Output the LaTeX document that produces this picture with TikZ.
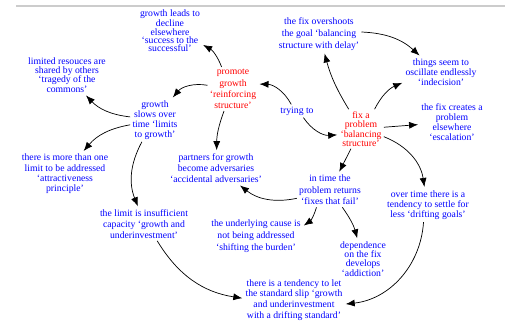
\documentclass[tikz,border=0pt]{standalone}
\usepackage{fontspec}
\setmainfont{Liberation Serif}
\usetikzlibrary{arrows.meta}

\begin{document}
\begin{tikzpicture}[x=1pt,y=-1pt,->,>={Latex[length=9pt,width=7pt]},shorten >=1pt,auto,
  line width=0.7pt,
  case node/.style={text=blue,align=center,inner sep=2pt,font=\fontsize{9.7}{#1}\selectfont},
  case node/.default=10.3,
  loop node/.style={case node=#1,text=red},
  loop node/.default=10.3]

  \useasboundingbox (0,0) rectangle (506,324);
  \draw[-,line width=2.5pt,black!20] (16,6) -- (506,6);

  \node[case node=8.3] (success) at (170,31) {growth leads to\\decline\\elsewhere\\`success to the\\successful'};
  \node[case node=9.3] (commons) at (67,75) {limited resouces are\\shared by others\\`tragedy of the\\commons'};
  \node[loop node=11.3] (promote) at (233,89) {promote\\growth\\`reinforcing\\structure'};
  \node[case node=10] (limits) at (155,120) {growth\\slows over\\time `limits\\to growth'};
  \node[case node] (attract) at (65,174) {there is more than one\\limit to be addressed\\`attractiveness\\principle'};
  \node[case node=11] (partners) at (216,168) {partners for growth\\become adversaries\\`accidental adversaries'};
  \node[case node] (trying) at (297,111) {trying to};
  \node[loop node=9.3] (fix) at (361,129) {fix a\\problem\\`balancing\\structure'};
  \node[case node=11.7] (overshoot) at (319,34) {the fix overshoots\\the goal `balancing\\structure with delay'};
  \node[case node=10] (indecision) at (441,72) {things seem to\\oscillate endlessly\\`indecision'};
  \node[case node=10] (escalation) at (452,122) {the fix creates a\\problem\\elsewhere\\`escalation'};
  \node[case node=11.5] (returns) at (330,190) {in time the\\problem returns\\`fixes that fail'};
  \node[case node] (drifting) at (428,205) {over time there is a\\tendency to settle for\\less `drifting goals'};
  \node[case node=12] (burden) at (256,236) {the underlying cause is\\not being addressed\\`shifting the burden'};
  \node[case node=9.3] (addiction) at (363,259) {dependence\\on the fix\\develops\\`addiction'};
  \node[case node=11] (underinv) at (144,224) {the limit is insufficient\\capacity `growth and\\underinvestment'};
  \node[case node=10.8] (slip) at (294,300) {there is a tendency to let\\the standard slip `growth\\and underinvestment\\with a drifting standard'};

  \path
    (promote) edge[bend right=20] (success)
    (promote) edge[bend right=30] (limits)
    (promote) edge[bend right=10] (partners)
    (limits) edge[bend left=20] (commons)
    (limits) edge[bend right=20] (attract)
    (limits) edge[bend right=25] (underinv)
    (trying) edge[bend right=30] (promote)
    (trying) edge[bend right=30] (fix)
    (fix) edge[bend left=8] (overshoot)
    (overshoot) edge[bend left=20] (indecision)
    (fix) edge[bend left=20] (indecision)
    (fix) edge (escalation)
    (fix) edge[bend left=30] (drifting)
    (fix) edge (returns)
    (returns) edge[bend left=25] (partners)
    (returns) edge[bend left=20] (burden)
    (returns) edge[bend left=10] (addiction)
    (drifting) edge[bend left=40] (slip)
    (underinv) edge[bend right=25] (slip);
\end{tikzpicture}
\end{document}
